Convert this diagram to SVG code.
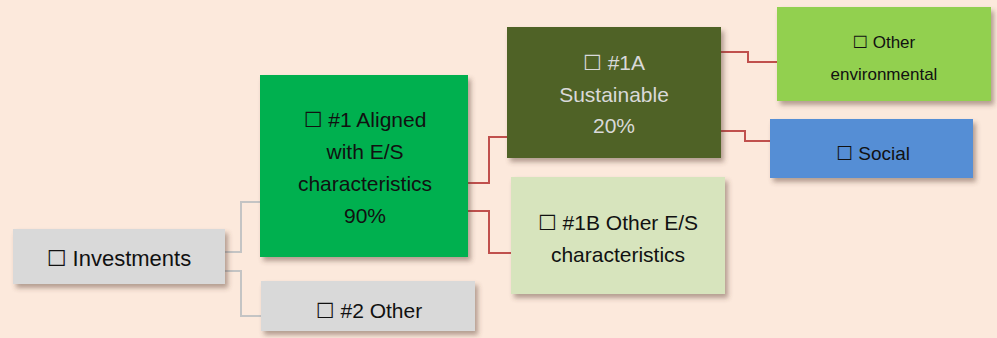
<svg xmlns="http://www.w3.org/2000/svg" width="997" height="338" viewBox="0 0 997 338">
<defs>
<filter id="sh" x="-10%" y="-10%" width="130%" height="140%">
<feDropShadow dx="3" dy="4" stdDeviation="2.5" flood-color="#5a4030" flood-opacity="0.45"/>
</filter>
<style>
text{font-family:"Liberation Sans","DejaVu Sans",sans-serif;text-anchor:middle;fill:#111}
.g{fill:none;stroke:#c4c4c4;stroke-width:2}
.r{fill:none;stroke:#c0504d;stroke-width:2}
.box{filter:url(#sh)}
</style>
</defs>
<rect width="997" height="338" fill="#fce9dc"/>
<g id="connectors">
<polyline class="g" points="225,252 241,252 241,202 260,202"/>
<polyline class="g" points="225,271 241,271 241,316 261,316"/>
<polyline class="r" points="468,183 489,183 489,137 507,137"/>
<polyline class="r" points="468,211 489,211 489,253 511,253"/>
<polyline class="r" points="721,52 748,52 748,62 777,62"/>
<polyline class="r" points="721,131 745,131 745,141 770,141"/>
</g>
<g id="investments">
<rect class="box" x="13" y="229" width="212" height="55" fill="#d9d9d9"/>
<text x="119" y="266" font-size="22">☐ Investments</text>
</g>
<g id="aligned">
<rect class="box" x="260" y="75" width="208" height="182" fill="#00b050"/>
<text font-size="21"><tspan x="365" y="127">☐ #1 Aligned</tspan><tspan x="365" y="159">with E/S</tspan><tspan x="365" y="191">characteristics</tspan><tspan x="365" y="223">90%</tspan></text>
</g>
<g id="other2">
<rect class="box" x="261" y="281" width="214" height="50" fill="#d9d9d9"/>
<text x="369" y="318" font-size="21">☐ #2 Other</text>
</g>
<g id="sustainable">
<rect class="box" x="507" y="27" width="214" height="131" fill="#4f6228"/>
<text font-size="21" style="fill:#d9d9d9"><tspan x="614" y="70">☐ #1A</tspan><tspan x="614" y="102">Sustainable</tspan><tspan x="614" y="133">20%</tspan></text>
</g>
<g id="otheres">
<rect class="box" x="511" y="177" width="214" height="117" fill="#d7e4bd"/>
<text font-size="21"><tspan x="618" y="230">☐ #1B Other E/S</tspan><tspan x="618" y="262">characteristics</tspan></text>
</g>
<g id="otherenv">
<rect class="box" x="777" y="7" width="214" height="94" fill="#92d050"/>
<text font-size="17"><tspan x="884" y="48">☐ Other</tspan><tspan x="884" y="80">environmental</tspan></text>
</g>
<g id="social">
<rect class="box" x="770" y="119" width="203" height="59" fill="#558ed5"/>
<text x="873" y="160" font-size="19">☐ Social</text>
</g>
</svg>
